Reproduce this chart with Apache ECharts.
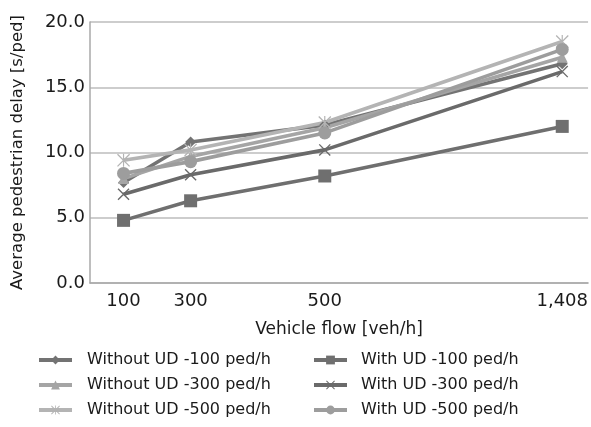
<!DOCTYPE html>
<html>
<head>
<meta charset="utf-8">
<script src="https://cdn.jsdelivr.net/npm/echarts@6/dist/echarts.min.js"></script>
<style>html,body{margin:0;padding:0;background:#fff}#c{width:591px;height:427px}</style>
</head>
<body>
<div id="c"></div>
<script>
// Vehicle flow categories and their positions along the (unevenly spaced) x axis
var flowLabels = ['100', '300', '500', '1,408'];
var flowSlots = [1, 3, 7, 14.08];

var seriesNames = [
  'Without UD -100 ped/h', 'Without UD -300 ped/h', 'Without UD -500 ped/h',
  'With UD -100 ped/h', 'With UD -300 ped/h', 'With UD -500 ped/h'
];
var withoutUD100 = [7.7, 10.8, 12.1, 16.8];
var withoutUD300 = [8.0, 9.7, 11.9, 17.3];
var withoutUD500 = [9.4, 10.2, 12.3, 18.5];
var withUD100 = [4.8, 6.3, 8.2, 12.0];
var withUD300 = [6.8, 8.3, 10.2, 16.2];
var withUD500 = [8.4, 9.3, 11.5, 17.9];

var FONT = 'DejaVu Sans';
var TXT = '#1a1a1a';
var xPath = 'path://M0 1.6L1.6 0L20 18.4L18.4 20Z M18.4 0L20 1.6L1.6 20L0 18.4Z';
var starPath = 'path://M9.1 0L10.9 0L10.9 20L9.1 20Z M0 1.4L1.4 0L20 18.6L18.6 20Z M18.6 0L20 1.4L1.4 20L0 18.6Z';

function pts(vals) {
  return vals.map(function (v, i) { return [flowSlots[i], v]; });
}
function mk(name, vals, color, symbol, size) {
  return {
    name: name, type: 'line', data: pts(vals),
    symbol: symbol, symbolSize: size,
    lineStyle: { color: color, width: 3.6 },
    itemStyle: { color: color, borderWidth: 0 },
    emphasis: { disabled: true },
    z: 2
  };
}

var chart = echarts.init(document.getElementById('c'), null, { renderer: 'canvas' });
chart.setOption({
  animation: false,
  backgroundColor: '#fff',
  textStyle: { fontFamily: FONT },
  grid: { left: 90, right: 2, top: 22, bottom: 144 },
  xAxis: {
    type: 'value', min: 0, max: 14.85,
    name: 'Vehicle flow [veh/h]', nameLocation: 'middle', nameGap: 38,
    nameTextStyle: { fontFamily: FONT, fontSize: 17, color: TXT },
    axisLine: { show: true, lineStyle: { color: '#a8a8a8', width: 1.5 } },
    axisTick: { show: false },
    splitLine: { show: false },
    axisLabel: {
      customValues: flowSlots,
      formatter: function (v) {
        var i = flowSlots.indexOf(v);
        return i >= 0 ? flowLabels[i] : '';
      },
      fontFamily: FONT, fontSize: 18, color: TXT, margin: 9
    }
  },
  yAxis: {
    type: 'value', min: 0, max: 20, interval: 5,
    name: 'Average pedestrian delay [s/ped]', nameLocation: 'middle', nameGap: 64,
    nameTextStyle: { fontFamily: FONT, fontSize: 16.5, color: TXT },
    axisLine: { show: true, lineStyle: { color: '#a8a8a8', width: 1.5 } },
    axisTick: { show: false },
    splitLine: { show: true, lineStyle: { color: '#bdbdbd', width: 1.5 } },
    axisLabel: {
      formatter: function (v) { return v.toFixed(1); },
      fontFamily: FONT, fontSize: 18, color: TXT, margin: 5
    }
  },
  legend: [
    {
      data: seriesNames.slice(0, 3), orient: 'vertical', left: 32, top: 347,
      itemWidth: 33, itemHeight: 11, itemGap: 9,
      lineStyle: { width: 4 },
      textStyle: { fontFamily: FONT, fontSize: 16, color: TXT, padding: [0, 0, 0, 10] },
      selectedMode: false
    },
    {
      data: seriesNames.slice(3, 6), orient: 'vertical', left: 307, top: 347,
      itemWidth: 33, itemHeight: 11, itemGap: 9,
      lineStyle: { width: 4 },
      textStyle: { fontFamily: FONT, fontSize: 16, color: TXT, padding: [0, 0, 0, 9] },
      selectedMode: false
    }
  ],
  series: [
    mk(seriesNames[0], withoutUD100, '#737373', 'diamond', 11),
    mk(seriesNames[1], withoutUD300, '#a5a5a5', 'triangle', 11),
    mk(seriesNames[2], withoutUD500, '#b4b4b4', starPath, 13),
    mk(seriesNames[3], withUD100, '#6f6f6f', 'rect', 13),
    mk(seriesNames[4], withUD300, '#6a6a6a', xPath, 12),
    mk(seriesNames[5], withUD500, '#9d9d9d', 'circle', 13)
  ]
});
</script>
</body>
</html>
